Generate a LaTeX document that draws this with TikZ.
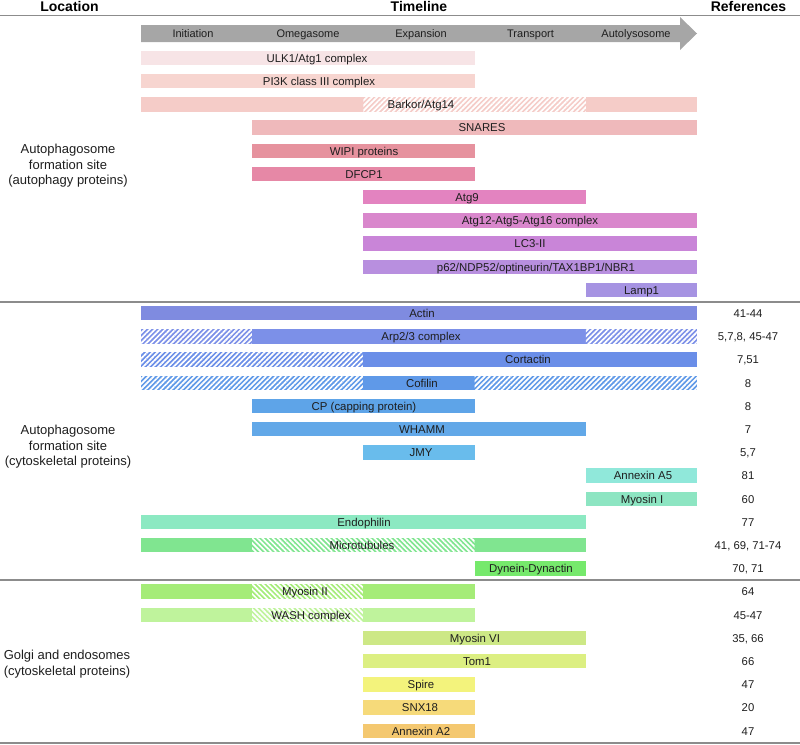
\documentclass[tikz,border=0pt]{standalone}
\usepackage{fontspec}
\setmainfont{Liberation Sans}
\usetikzlibrary{patterns.meta}
\definecolor{txt}{HTML}{1E1E1E}
\definecolor{linegray}{HTML}{8C8C8C}
\definecolor{arrowgray}{HTML}{A6A6A6}
\definecolor{cUlk}{HTML}{F7E4E6}
\definecolor{cPi}{HTML}{F7D5D0}
\definecolor{cBark}{HTML}{F5CCC8}
\definecolor{cSnare}{HTML}{EFB9BB}
\definecolor{cWipi}{HTML}{E6929E}
\definecolor{cDfcp}{HTML}{E688A6}
\definecolor{cAtgn}{HTML}{E383C0}
\definecolor{cAtgt}{HTML}{D987CC}
\definecolor{cLc}{HTML}{C985D8}
\definecolor{cPsix}{HTML}{B88FDF}
\definecolor{cLamp}{HTML}{A693E2}
\definecolor{cActin}{HTML}{7F8BE0}
\definecolor{cArp}{HTML}{7C90E8}
\definecolor{cCort}{HTML}{6A8EE8}
\definecolor{cCof}{HTML}{5F99E8}
\definecolor{cCp}{HTML}{5EA4E8}
\definecolor{cWham}{HTML}{62A8E8}
\definecolor{cJmy}{HTML}{69BCEC}
\definecolor{cAnxf}{HTML}{90E8DA}
\definecolor{cMyoi}{HTML}{8DE5C2}
\definecolor{cEndo}{HTML}{8CE9C2}
\definecolor{cMicro}{HTML}{80E590}
\definecolor{cDyn}{HTML}{76E96C}
\definecolor{cMyoii}{HTML}{A5EC78}
\definecolor{cWash}{HTML}{BFF39C}
\definecolor{cMyovi}{HTML}{CDE886}
\definecolor{cTom}{HTML}{DCEF82}
\definecolor{cSpire}{HTML}{F3F37C}
\definecolor{cSnx}{HTML}{F6DA7A}
\definecolor{cAnxt}{HTML}{F4C870}
\tikzset{
  hatchR/.style={pattern={Lines[angle=45,distance=3.6pt,line width=1.7pt]},pattern color=white},
  hatchL/.style={pattern={Lines[angle=-45,distance=3.6pt,line width=1.7pt]},pattern color=white},
  lbl/.style={font=\fontsize{11.4}{13}\selectfont, text=txt, inner sep=0pt, anchor=base},
  reflbl/.style={font=\fontsize{11.3}{13}\selectfont, text=txt, inner sep=0pt, anchor=base},
  stage/.style={font=\fontsize{11}{13}\selectfont, text=txt, inner sep=0pt, anchor=base},
  head/.style={font=\fontsize{14}{16}\selectfont\bfseries, text=black, inner sep=0pt, anchor=base},
  loc/.style={font=\fontsize{13}{15.5}\selectfont, text=txt, inner sep=0pt, align=center, anchor=center},
  sep/.style={draw=linegray, line width=1.8pt},
}
% solid segment: row, x1, x2, colour
\newcommand\tlseg[4]{\fill[#4] (#2,{58+23.2*#1-7.25}) rectangle (#3,{58+23.2*#1+7.25});}
% hatched segment: row, x1, x2, colour, hatch style
\newcommand\tlhat[5]{\fill[#4] (#2,{58+23.2*#1-7.25}) rectangle (#3,{58+23.2*#1+7.25});
  \fill[#5] (#2,{58+23.2*#1-7.25}) rectangle (#3,{58+23.2*#1+7.25});}
% label: name, row, x, text
\newcommand\tllab[4]{\node[lbl] (#1) at (#3,{58+23.2*#2+4.3}) {#4};}
% reference: name, row, text
\newcommand\tlref[3]{\node[reflbl] (#1) at (748,{58+23.2*#2+4.2}) {#3};}
\begin{document}
\begin{tikzpicture}[x=1pt,y=-1pt]
\useasboundingbox (0,0) rectangle (800,744);
% header
\node[head] (hLoc) at (69.5,12) {Location};
\node[head] (hTime) at (419,12) {Timeline};
\node[head] (hRef) at (748.5,12) {References};
\draw[sep] (0,15.5) -- (800,15.5);
% arrow
\fill[arrowgray] (141,25) -- (680,25) -- (680,17) -- (697,33.5) -- (680,50) -- (680,42) -- (141,42) -- cycle;
\node[stage] (sInit) at (193,37.3) {Initiation};
\node[stage] (sOmega) at (308,37.3) {Omegasome};
\node[stage] (sExp) at (421,37.3) {Expansion};
\node[stage] (sTrans) at (530.5,37.3) {Transport};
\node[stage] (sAuto) at (636,37.3) {Autolysosome};
% section separators
\draw[sep] (0,301.6) -- (800,301.6);
\draw[sep] (0,580) -- (800,580);
\draw[sep] (0,742.6) -- (800,742.6);
% location labels
\node[loc] (loc1) at (68,166) {Autophagosome\\formation site\\(autophagy proteins)};
\node[loc] (loc2) at (68,447) {Autophagosome\\formation site\\(cytoskeletal proteins)};
\node[loc] (loc3) at (67,664) {Golgi and endosomes\\(cytoskeletal proteins)};
% bars: columns 141, 252.2, 363.4, 474.6, 585.8, 697
\tlseg{0}{141}{474.6}{cUlk}
\tlseg{1}{141}{474.6}{cPi}
\tlseg{2}{141}{363.4}{cBark}\tlhat{2}{363.4}{585.8}{cBark}{hatchR}\tlseg{2}{585.8}{697}{cBark}
\tlseg{3}{252.2}{697}{cSnare}
\tlseg{4}{252.2}{474.6}{cWipi}
\tlseg{5}{252.2}{474.6}{cDfcp}
\tlseg{6}{363.4}{585.8}{cAtgn}
\tlseg{7}{363.4}{697}{cAtgt}
\tlseg{8}{363.4}{697}{cLc}
\tlseg{9}{363.4}{697}{cPsix}
\tlseg{10}{585.8}{697}{cLamp}
\tlseg{11}{141}{697}{cActin}
\tlhat{12}{141}{252.2}{cArp}{hatchR}\tlseg{12}{252.2}{585.8}{cArp}\tlhat{12}{585.8}{697}{cArp}{hatchR}
\tlhat{13}{141}{363.4}{cCort}{hatchR}\tlseg{13}{363.4}{697}{cCort}
\tlhat{14}{141}{363.4}{cCof}{hatchR}\tlseg{14}{363.4}{474.6}{cCof}\tlhat{14}{474.6}{697}{cCof}{hatchR}
\tlseg{15}{252.2}{474.6}{cCp}
\tlseg{16}{252.2}{585.8}{cWham}
\tlseg{17}{363.4}{474.6}{cJmy}
\tlseg{18}{585.8}{697}{cAnxf}
\tlseg{19}{585.8}{697}{cMyoi}
\tlseg{20}{141}{585.8}{cEndo}
\tlseg{21}{141}{252.2}{cMicro}\tlhat{21}{252.2}{474.6}{cMicro}{hatchL}\tlseg{21}{474.6}{585.8}{cMicro}
\tlseg{22}{474.6}{585.8}{cDyn}
\tlseg{23}{141}{252.2}{cMyoii}\tlhat{23}{252.2}{363.4}{cMyoii}{hatchL}\tlseg{23}{363.4}{474.6}{cMyoii}
\tlseg{24}{141}{252.2}{cWash}\tlhat{24}{252.2}{363.4}{cWash}{hatchL}\tlseg{24}{363.4}{474.6}{cWash}
\tlseg{25}{363.4}{585.8}{cMyovi}
\tlseg{26}{363.4}{585.8}{cTom}
\tlseg{27}{363.4}{474.6}{cSpire}
\tlseg{28}{363.4}{474.6}{cSnx}
\tlseg{29}{363.4}{474.6}{cAnxt}
% bar labels
\tllab{bUlk}{0}{317}{ULK1/Atg1 complex}
\tllab{bPi}{1}{319}{PI3K class III complex}
\tllab{bBark}{2}{421}{Barkor/Atg14}
\tllab{bSnare}{3}{482}{SNARES}
\tllab{bWipi}{4}{364}{WIPI proteins}
\tllab{bDfcp}{5}{364}{DFCP1}
\tllab{bAtgn}{6}{467}{Atg9}
\tllab{bAtgt}{7}{530}{Atg12-Atg5-Atg16 complex}
\tllab{bLc}{8}{530}{LC3-II}
\tllab{bPsix}{9}{536}{p62/NDP52/optineurin/TAX1BP1/NBR1}
\tllab{bLamp}{10}{641.5}{Lamp1}
\tllab{bActin}{11}{422}{Actin}
\tllab{bArp}{12}{421}{Arp2/3 complex}
\tllab{bCort}{13}{528}{Cortactin}
\tllab{bCof}{14}{422}{Cofilin}
\tllab{bCp}{15}{364}{CP (capping protein)}
\tllab{bWham}{16}{422}{WHAMM}
\tllab{bJmy}{17}{421}{JMY}
\tllab{bAnxf}{18}{643}{Annexin A5}
\tllab{bMyoi}{19}{642}{Myosin I}
\tllab{bEndo}{20}{364}{Endophilin}
\tllab{bMicro}{21}{362}{Microtubules}
\tllab{bDyn}{22}{531}{Dynein-Dynactin}
\tllab{bMyoii}{23}{305}{Myosin II}
\tllab{bWash}{24}{311}{WASH complex}
\tllab{bMyovi}{25}{475}{Myosin VI}
\tllab{bTom}{26}{477}{Tom1}
\tllab{bSpire}{27}{421}{Spire}
\tllab{bSnx}{28}{420}{SNX18}
\tllab{bAnxt}{29}{421}{Annexin A2}
% references
\tlref{rActin}{11}{41-44}
\tlref{rArp}{12}{5,7,8, 45-47}
\tlref{rCort}{13}{7,51}
\tlref{rCof}{14}{8}
\tlref{rCp}{15}{8}
\tlref{rWham}{16}{7}
\tlref{rJmy}{17}{5,7}
\tlref{rAnxf}{18}{81}
\tlref{rMyoi}{19}{60}
\tlref{rEndo}{20}{77}
\tlref{rMicro}{21}{41, 69, 71-74}
\tlref{rDyn}{22}{70, 71}
\tlref{rMyoii}{23}{64}
\tlref{rWash}{24}{45-47}
\tlref{rMyovi}{25}{35, 66}
\tlref{rTom}{26}{66}
\tlref{rSpire}{27}{47}
\tlref{rSnx}{28}{20}
\tlref{rAnxt}{29}{47}
\end{tikzpicture}
\end{document}
